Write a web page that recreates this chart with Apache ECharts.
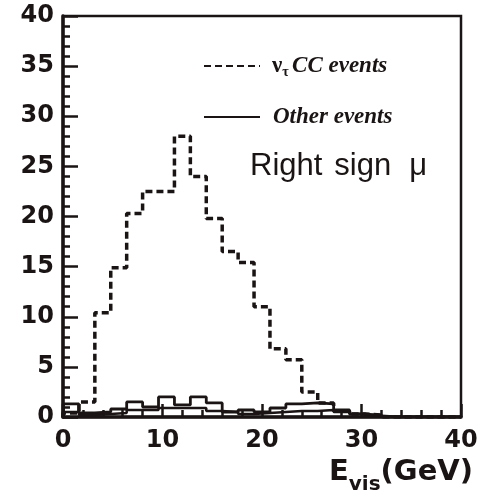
<!DOCTYPE html>
<html>
<head>
<meta charset="utf-8">
<script src="https://cdn.jsdelivr.net/npm/echarts@6/dist/echarts.min.js"></script>
<style>
  html, body { margin: 0; padding: 0; background: #ffffff; }
  #chart { width: 488px; height: 499px; }
</style>
</head>
<body>
<div id="chart"></div>
<script>
// Histogram binning: 25 bins of 1.6 GeV from 0 to 40 GeV
const binStart = 0;
const binWidth = 1.6;

// ν_τ CC events per bin (dashed)
const nuTauCC = [0.4, 1.5, 10.4, 14.9, 20.3, 22.5, 22.5, 28.0, 24.0, 19.8,
                 16.5, 15.4, 11.0, 6.8, 5.7, 2.5, 1.4, 0.6, 0.3, 0.2,
                 0, 0, 0, 0, 0];

// Other events per bin (solid), upper and lower contributions
const otherEvents = [1.3, 0.4, 0.5, 0.8, 1.5, 1.0, 2.0, 1.2, 2.0, 1.4,
                     0.5, 0.7, 0.5, 0.9, 1.3, 1.4, 1.3, 0.7, 0.3, 0.1,
                     0, 0, 0, 0, 0];
const otherEventsPart = [0.5, 0.2, 0.3, 0.4, 0.7, 0.7, 0.9, 0.9, 0.9, 0.6,
                         0.5, 0.3, 0.4, 0.5, 0.6, 0.6, 0.7, 0.5, 0.3, 0.2,
                         0, 0, 0, 0, 0];

const xTicks = [0, 10, 20, 30, 40];
const yTicks = [0, 5, 10, 15, 20, 25, 30, 35, 40];

const nuName = 'ν_τ CC events';
const otherName = 'Other events';

const ink = '#1a1414';
const boldSans = 'DejaVu Sans, Verdana, sans-serif';
const serif = 'Liberation Serif, Times New Roman, serif';

// Turn per-bin counts into step points at the bin edges
function histPoints(counts) {
  const pts = [[binStart, 0]];
  counts.forEach((v, i) => pts.push([binStart + i * binWidth, v]));
  pts.push([binStart + counts.length * binWidth, counts[counts.length - 1]]);
  return pts;
}

const chart = echarts.init(document.getElementById('chart'), null, { renderer: 'canvas' });

const tickFont = {
  color: ink,
  fontFamily: boldSans,
  fontWeight: 'bold',
  fontSize: 24
};

const labelFont = { fontFamily: 'Liberation Sans, Arial, sans-serif', fontWeight: 'normal', fontSize: 31, color: ink };

chart.setOption({
  backgroundColor: '#ffffff',
  animation: false,
  title: {
    text: '{a|Right}{b|sign}{c|μ}',
    left: 250,
    top: 151,
    padding: 0,
    textStyle: {
      rich: {
        a: labelFont,
        b: Object.assign({ padding: [0, 0, 0, 12] }, labelFont),
        c: Object.assign({ padding: [0, 0, 0, 18] }, labelFont)
      }
    }
  },
  legend: {
    orient: 'vertical',
    left: 203,
    top: 54,
    padding: 0,
    itemWidth: 56,
    itemHeight: 14,
    itemGap: 26,
    itemStyle: { opacity: 0 },
    data: [nuName, otherName],
    formatter: function (name) {
      if (name === nuName) return '{nu|ν}{tau|τ} {it|CC events}';
      return '{it2|Other events}';
    },
    textStyle: {
      color: ink,
      lineHeight: 24,
      rich: {
        nu: { fontFamily: serif, fontWeight: 'bold', fontSize: 23, color: ink, padding: [0, 0, 0, 7] },
        tau: { fontFamily: serif, fontWeight: 'bold', fontSize: 14, color: ink, padding: [12, 0, 0, 0] },
        it: { fontFamily: serif, fontStyle: 'italic', fontWeight: 'bold', fontSize: 23, color: ink },
        it2: { fontFamily: serif, fontStyle: 'italic', fontWeight: 'bold', fontSize: 23, color: ink, padding: [0, 0, 0, 8] }
      }
    }
  },
  grid: {
    left: 63,
    top: 16,
    width: 398,
    height: 401,
    show: true,
    borderColor: ink,
    borderWidth: 2.5,
    backgroundColor: 'transparent'
  },
  xAxis: {
    type: 'value',
    min: xTicks[0],
    max: xTicks[xTicks.length - 1],
    interval: xTicks[1] - xTicks[0],
    name: '{e|E}{sub|vis}{e|(GeV)}',
    nameLocation: 'end',
    nameGap: 12,
    nameTextStyle: {
      align: 'right',
      verticalAlign: 'top',
      padding: [41, 0, 0, 0],
      rich: {
        e: { fontFamily: boldSans, fontWeight: 'bold', fontSize: 29, color: ink, verticalAlign: 'top', lineHeight: 30 },
        sub: { fontFamily: boldSans, fontWeight: 'bold', fontSize: 20, color: ink, verticalAlign: 'top', lineHeight: 20, padding: [17, 0, 0, 0] }
      }
    },
    axisLine: { show: true, onZero: false, lineStyle: { color: ink, width: 3.5 } },
    axisTick: { show: true, inside: true, length: 13, lineStyle: { color: ink, width: 2.5 } },
    minorTick: { show: true, splitNumber: 5, length: 7, lineStyle: { color: ink, width: 2.5 } },
    axisLabel: Object.assign({ margin: 12 }, tickFont),
    splitLine: { show: false }
  },
  yAxis: {
    type: 'value',
    min: yTicks[0],
    max: yTicks[yTicks.length - 1],
    interval: yTicks[1] - yTicks[0],
    axisLine: { show: true, onZero: false, lineStyle: { color: ink, width: 3.5 } },
    axisTick: { show: true, inside: true, length: 15, lineStyle: { color: ink, width: 2.5 } },
    minorTick: { show: true, splitNumber: 5, length: 7, lineStyle: { color: ink, width: 2.5 } },
    axisLabel: Object.assign({ margin: 9 }, tickFont),
    splitLine: { show: false }
  },
  series: [
    {
      name: nuName,
      type: 'line',
      step: 'end',
      symbol: 'none',
      data: histPoints(nuTauCC),
      lineStyle: { color: ink, width: 3.5, type: [7, 4], cap: 'butt' },
      z: 3
    },
    {
      name: otherName,
      type: 'line',
      step: 'end',
      symbol: 'none',
      data: histPoints(otherEvents),
      lineStyle: { color: ink, width: 2.8, type: 'solid' },
      z: 2
    },
    {
      name: 'other-part',
      type: 'line',
      step: 'end',
      symbol: 'none',
      data: histPoints(otherEventsPart),
      lineStyle: { color: ink, width: 2.5, type: 'solid' },
      z: 2
    }
  ]
});
</script>
</body>
</html>
